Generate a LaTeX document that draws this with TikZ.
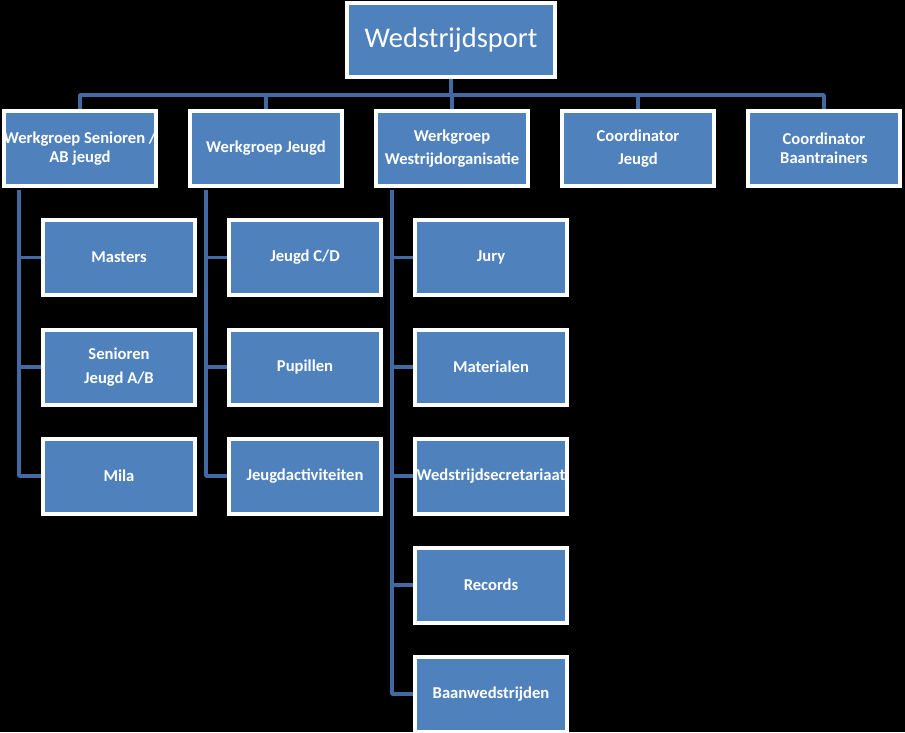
\documentclass[tikz,border=0pt]{standalone}
\usepackage{fontspec}
\setmainfont{Carlito}
\definecolor{boxblue}{RGB}{79,129,189}
\definecolor{linkblue}{RGB}{66,106,162}
\begin{document}
\begin{tikzpicture}[x=1pt,y=-1pt,
  orgbox/.style={rectangle,draw=white,line width=4pt,fill=boxblue,text=white,
    minimum width=152pt,minimum height=75pt,inner sep=0pt,align=center,
    font=\fontsize{16.6}{19}\selectfont\bfseries},
  link/.style={draw=linkblue,line width=3.5pt}]
\fill[black] (0,0) rectangle (905,732);
\useasboundingbox (0,0) rectangle (905,732);
% top
\node[orgbox,minimum width=208pt,minimum height=74pt,font=\fontsize{28.5}{32}\selectfont] (top) at (451,40) {Wedstrijdsport};
% row 1
\node[orgbox] (r1) at (80,148.5) {Werkgroep Senioren /\\AB jeugd};
\node[orgbox] (r2) at (266,148.5) {Werkgroep Jeugd};
\node[orgbox] (r3) at (452,148.5) {Werkgroep\\[4pt]Westrijdorganisatie};
\node[orgbox] (r4) at (638,148.5) {Coordinator\\[4pt]Jeugd};
\node[orgbox] (r5) at (824,148.5) {Coordinator\\Baantrainers};
% column 1
\node[orgbox] (a1) at (119,257.5) {Masters};
\node[orgbox] (a2) at (119,367) {Senioren\\[5pt]Jeugd A/B};
\node[orgbox] (a3) at (119,476) {Mila};
% column 2
\node[orgbox] (b1) at (305,257.5) {Jeugd C/D};
\node[orgbox] (b2) at (305,367) {Pupillen};
\node[orgbox] (b3) at (305,476) {Jeugdactiviteiten};
% column 3
\node[orgbox] (c1) at (491,257.5) {Jury};
\node[orgbox] (c2) at (491,367) {Materialen};
\node[orgbox] (c3) at (491,476) {Wedstrijdsecretariaat};
\node[orgbox] (c4) at (491,585) {Records};
\node[orgbox] (c5) at (491,694) {Baanwedstrijden};
% connectors
\coordinate (bus) at (0,95);
\coordinate (v1) at (19,190);
\coordinate (v2) at (206,190);
\coordinate (v3) at (392,190);
\path[link] (top.south) -- (top.south |- bus);
\path[link,line join=round] (r1.north) -- (r1.north |- bus) -| (r5.north);
\path[link] (r2.north) -- (r2.north |- bus);
\path[link] (r3.north) -- (r3.north |- bus);
\path[link] (r4.north) -- (r4.north |- bus);
\path[link] (v1) |- (a1.west);
\path[link] (v1) |- (a2.west);
\path[link,line join=round] (v1) |- (a3.west);
\path[link] (v2) |- (b1.west);
\path[link] (v2) |- (b2.west);
\path[link,line join=round] (v2) |- (b3.west);
\path[link] (v3) |- (c1.west);
\path[link] (v3) |- (c2.west);
\path[link] (v3) |- (c3.west);
\path[link] (v3) |- (c4.west);
\path[link,line join=round] (v3) |- (c5.west);
\end{tikzpicture}
\end{document}
